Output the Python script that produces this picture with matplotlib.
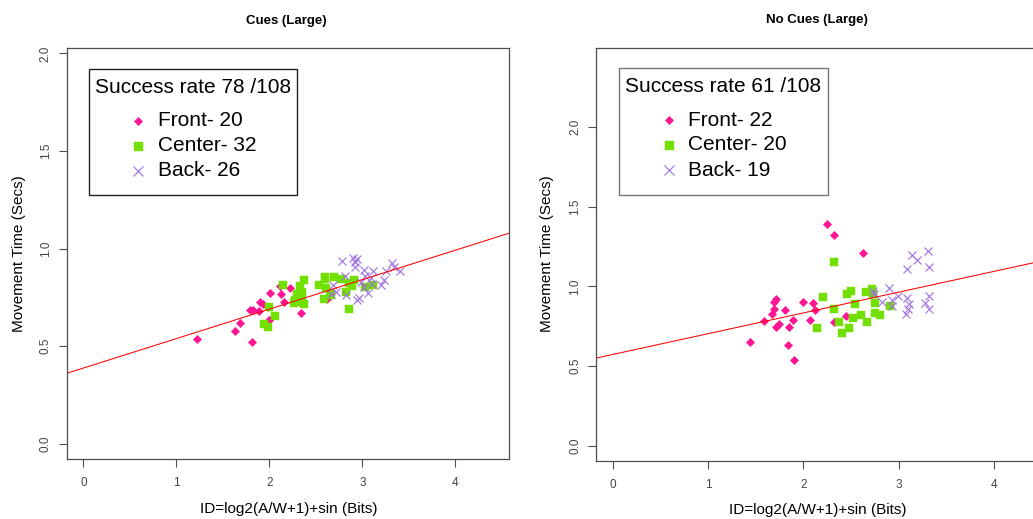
import matplotlib
matplotlib.use("Agg")
import matplotlib.pyplot as plt
from matplotlib.patches import Rectangle

plt.rcParams['font.family'] = ['Liberation Sans', 'DejaVu Sans']

# ---------------- data ----------------
# Left panel: Cues (Large)
cues_front_x = [1.226, 1.626, 1.683, 1.815, 1.787, 1.822, 1.883, 1.901, 1.926, 1.994,
                2.001, 2.008, 2.130, 2.119, 2.155, 2.222, 2.337, 2.620, 1.983, 2.300]
cues_front_y = [0.539, 0.579, 0.620, 0.523, 0.686, 0.686, 0.681, 0.726, 0.717, 0.635,
                0.632, 0.772, 0.770, 0.809, 0.729, 0.798, 0.671, 0.740, 0.703, 0.760]
cues_center_x = [2.151, 1.994, 2.058, 1.947, 1.990, 2.376, 2.333, 2.355, 2.305, 2.280,
                 2.323, 2.369, 2.265, 2.355, 2.530, 2.601, 2.601, 2.690, 2.608, 2.583,
                 2.662, 2.769, 2.858, 2.823, 2.887, 2.912, 2.858, 3.030, 3.119, 2.300,
                 2.340, 2.655]
cues_center_y = [0.812, 0.703, 0.656, 0.613, 0.596, 0.837, 0.806, 0.780, 0.755, 0.738,
                 0.729, 0.716, 0.721, 0.748, 0.815, 0.857, 0.844, 0.854, 0.798, 0.743,
                 0.763, 0.844, 0.823, 0.780, 0.806, 0.840, 0.692, 0.801, 0.815, 0.770,
                 0.760, 0.772]
cues_back_x = [2.776, 2.901, 2.937, 2.923, 2.923, 2.816, 3.012, 3.030, 3.116, 3.091,
               3.323, 3.341, 3.402, 3.252, 3.234, 3.198, 3.055, 2.958, 2.941, 3.019,
               2.823, 2.662, 2.716, 2.680, 2.980, 3.100]
cues_back_y = [0.937, 0.951, 0.948, 0.930, 0.908, 0.861, 0.891, 0.861, 0.883, 0.852,
               0.926, 0.908, 0.883, 0.883, 0.840, 0.815, 0.772, 0.746, 0.738, 0.801,
               0.763, 0.767, 0.780, 0.815, 0.830, 0.818]
cues_fit = (0.388, 0.151)   # intercept, slope

# Right panel: No Cues (Large)
nocues_front_x = [2.243, 2.317, 2.628, 1.438, 1.585, 1.690, 1.711, 1.690, 1.666, 1.708,
                  1.746, 1.802, 1.844, 1.834, 1.893, 1.897, 1.998, 2.103, 2.124, 2.065,
                  2.320, 2.446]
nocues_front_y = [1.389, 1.322, 1.210, 0.649, 0.786, 0.861, 0.920, 0.905, 0.826, 0.747,
                  0.764, 0.851, 0.747, 0.630, 0.789, 0.539, 0.905, 0.895, 0.853, 0.789,
                  0.774, 0.815]
nocues_center_x = [2.317, 2.208, 2.457, 2.502, 2.656, 2.716, 2.320, 2.537, 2.139, 2.370,
                   2.401, 2.481, 2.517, 2.601, 2.664, 2.751, 2.748, 2.803, 2.912, 2.730]
nocues_center_y = [1.150, 0.932, 0.955, 0.969, 0.965, 0.982, 0.857, 0.890, 0.742, 0.778,
                   0.711, 0.742, 0.805, 0.823, 0.778, 0.895, 0.832, 0.820, 0.878, 0.955]
nocues_back_x = [3.137, 3.189, 3.304, 3.314, 3.083, 2.733, 2.901, 2.822, 2.927, 2.996,
                 2.927, 3.083, 3.111, 3.101, 3.077, 3.321, 3.276, 3.318, 2.745]
nocues_back_y = [1.200, 1.163, 1.221, 1.121, 1.111, 0.971, 0.988, 0.905, 0.913, 0.940,
                 0.878, 0.926, 0.888, 0.857, 0.826, 0.940, 0.898, 0.861, 0.950]
nocues_fit = (0.574, 0.130)

titles = ["Cues (Large)", "No Cues (Large)"]
legend_titles = ["Success rate 78 /108", "Success rate 61 /108"]
legend_labels = [["Front- 20", "Center- 32", "Back- 26"],
                 ["Front- 22", "Center- 20", "Back- 19"]]
x_ticks = [0, 1, 2, 3, 4]
y_ticks = [0.0, 0.5, 1.0, 1.5, 2.0]
xlabel = "ID=log2(A/W+1)+sin (Bits)"
ylabel = "Movement Time (Secs)"

# ---------------- styling ----------------
PINK = '#FF1493'
GREEN = '#72E000'
PURPLE = '#A070E0'
EDGE = '#4d4d4d'

W, H = 1033, 519
fig = plt.figure(figsize=(W / 100, H / 100), dpi=100)

def px_axes(x0, y0, x1, y1):
    return fig.add_axes([x0 / W, 1 - y1 / H, (x1 - x0) / W, (y1 - y0) / H])

panels = [
    dict(box=(67, 48, 509, 459), ylim=(-0.078, 2.028),
         data=((cues_front_x, cues_front_y), (cues_center_x, cues_center_y), (cues_back_x, cues_back_y)),
         fit=cues_fit, title_xy=(286.3, 21.3), xlab_x=289,
         leg=dict(box=(0.0505, 0.643, 0.521, 0.948), title_y=0.903, mx=0.161, tx=0.207, rows=(0.823, 0.762, 0.701), ec='#222222'),
         ylab_xy=(19.2, 253.7), xlab_y=509),
    dict(box=(596.3, 47.7, 1048.7, 461.3), ylim=(-0.096, 2.496),
         data=((nocues_front_x, nocues_front_y), (nocues_center_x, nocues_center_y), (nocues_back_x, nocues_back_y)),
         fit=nocues_fit, title_xy=(816.8, 20.0), xlab_x=818,
         leg=dict(box=(0.050, 0.645, 0.512, 0.950), title_y=0.906, mx=0.160, tx=0.203, rows=(0.825, 0.765, 0.704), ec='#777777'),
         ylab_xy=(547.5, 254.0), xlab_y=510),
]

marker_styles = [
    dict(marker='D', ms=3.7, color=PINK, mec=PINK, mew=0.5, ls='none'),
    dict(marker='s', ms=5.4, color=GREEN, mec=GREEN, mew=0.3, ls='none'),
    dict(marker='x', ms=6.3, color=PURPLE, mec=PURPLE, mew=0.8, ls='none'),
]

for i, p in enumerate(panels):
    x0, y0, x1, y1 = p['box']
    ax = px_axes(x0, y0, x1, y1)
    ax.set_xlim(-0.176, 4.576)
    ax.set_ylim(*p['ylim'])
    for (xs, ys), st in zip(p['data'], marker_styles):
        ax.plot(xs, ys, **st)
    b0, b1 = p['fit']
    ax.axline((0, b0), slope=b1, color='red', lw=0.75)

    ax.set_xticks(x_ticks)
    ax.set_xticklabels([str(t) for t in x_ticks])
    ax.set_yticks(y_ticks)
    ax.set_yticklabels([f"{t:.1f}" for t in y_ticks], rotation=90, va='center')
    ax.tick_params(axis='both', direction='out', length=6, width=0.8, color=EDGE,
                   labelsize=8.5, labelcolor='#444444')
    ax.tick_params(axis='x', pad=7)
    ax.tick_params(axis='y', pad=5)
    for s in ax.spines.values():
        s.set_color(EDGE)
        s.set_linewidth(0.9)

    # titles and axis labels
    fig.text(p['title_xy'][0] / W, 1 - p['title_xy'][1] / H, titles[i],
             ha='center', va='center', fontsize=9.5, fontweight='bold')
    fig.text(p['ylab_xy'][0] / W, 1 - p['ylab_xy'][1] / H, ylabel,
             ha='center', va='center', rotation=90, fontsize=11)
    fig.text(p['xlab_x'] / W, 1 - p['xlab_y'] / H, xlabel,
             ha='center', va='center', fontsize=11)

    # legend
    lg = p['leg']
    lx0, ly0, lx1, ly1 = lg['box']
    ax.add_patch(Rectangle((lx0, ly0), lx1 - lx0, ly1 - ly0, transform=ax.transAxes,
                           fill=True, fc='white', ec=lg['ec'], lw=1.0, zorder=5, clip_on=False))
    ax.text((lx0 + lx1) / 2, lg['title_y'], legend_titles[i], transform=ax.transAxes,
            ha='center', va='center', fontsize=15, zorder=6)
    for lab, ry, st in zip(legend_labels[i], lg['rows'], marker_styles):
        ax.plot([lg['mx']], [ry], transform=ax.transAxes, clip_on=False, zorder=6,
                **{**st, 'ms': st['ms'] * 1.2})
        ax.text(lg['tx'], ry, lab, transform=ax.transAxes, ha='left', va='center',
                fontsize=15, zorder=6)

fig.savefig("out.png", dpi=100)
